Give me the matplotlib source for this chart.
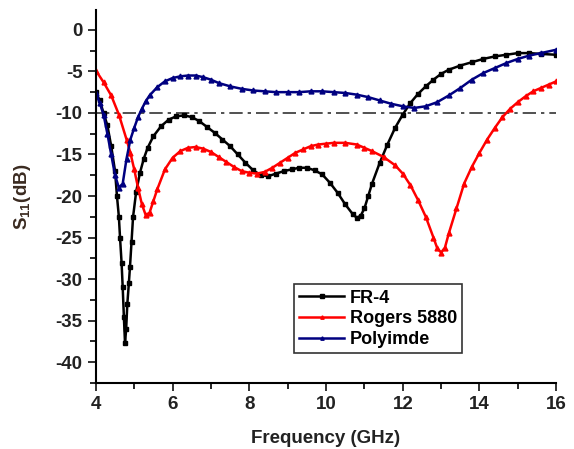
import matplotlib
matplotlib.use("Agg")
import matplotlib.pyplot as plt
from matplotlib.ticker import MultipleLocator, FuncFormatter

plt.rcParams['font.family'] = ['Liberation Sans', 'DejaVu Sans']
plt.rcParams['font.weight'] = 'bold'
plt.rcParams['mathtext.fontset'] = 'custom'
plt.rcParams['mathtext.rm'] = 'Liberation Sans:bold'
plt.rcParams['mathtext.default'] = 'rm'
plt.rcParams['axes.unicode_minus'] = False

# FR-4 (black)
fr4_f = [4.0, 4.1, 4.2, 4.3, 4.4, 4.5, 4.55, 4.6, 4.63, 4.67, 4.7, 4.73, 4.76, 4.79, 4.82,
         4.86, 4.89, 4.93, 4.97, 5.05, 5.15, 5.25, 5.35, 5.5, 5.7, 5.9, 6.1, 6.3, 6.5, 6.7,
         6.9, 7.1, 7.3, 7.5, 7.7, 7.9, 8.1, 8.3, 8.5, 8.7, 8.9, 9.1, 9.3, 9.5, 9.7, 9.9,
         10.1, 10.3, 10.5, 10.7, 10.8, 10.9, 11.0, 11.1, 11.2, 11.4, 11.6, 11.8, 12.0, 12.2,
         12.4, 12.6, 12.8, 13.0, 13.2, 13.5, 13.8, 14.1, 14.4, 14.7, 15.0, 15.3, 15.6, 16.0]
fr4_s = [-7.5, -8.5, -10.0, -11.5, -14.0, -17.0, -20.0, -22.5, -25.0, -28.0, -31.0, -34.5, -37.7, -36.0, -33.0,
         -30.5, -28.5, -25.5, -22.5, -19.5, -17.2, -15.5, -14.2, -12.8, -11.6, -10.8, -10.4, -10.3, -10.5, -11.0,
         -11.7, -12.4, -13.2, -14.0, -15.0, -16.0, -16.9, -17.5, -17.6, -17.3, -17.0, -16.8, -16.6, -16.6, -16.9, -17.4,
         -18.4, -19.6, -21.0, -22.2, -22.6, -22.4, -21.5, -20.0, -18.5, -16.0, -13.8, -11.8, -10.2, -8.8,
         -7.7, -6.8, -6.0, -5.3, -4.8, -4.3, -3.9, -3.5, -3.2, -3.0, -2.8, -2.8, -2.9, -3.0]

# Rogers 5880 (red)
rog_f = [4.0, 4.2, 4.4, 4.6, 4.8, 4.9, 5.0, 5.1, 5.2, 5.3, 5.4, 5.5, 5.6, 5.8, 6.0, 6.2,
         6.4, 6.6, 6.8, 7.0, 7.2, 7.4, 7.6, 7.8, 8.0, 8.2, 8.4, 8.6, 8.8, 9.0, 9.2, 9.4,
         9.6, 9.8, 10.0, 10.2, 10.5, 10.8, 11.0, 11.2, 11.5, 11.8, 12.0, 12.2, 12.4, 12.6,
         12.8, 12.9, 13.0, 13.1, 13.2, 13.4, 13.6, 13.8, 14.0, 14.2, 14.4, 14.6, 14.8, 15.0,
         15.2, 15.4, 15.6, 15.8, 16.0]
rog_s = [-4.9, -6.3, -7.9, -10.2, -13.2, -14.8, -16.8, -19.0, -21.0, -22.3, -22.0, -20.6, -19.2, -16.8, -15.4, -14.6,
         -14.2, -14.1, -14.3, -14.7, -15.3, -15.9, -16.5, -17.0, -17.2, -17.3, -17.1, -16.6, -16.0, -15.4, -14.8, -14.4,
         -14.0, -13.8, -13.7, -13.6, -13.6, -13.8, -14.2, -14.6, -15.3, -16.3, -17.3, -18.7, -20.5, -22.5,
         -25.0, -26.3, -26.8, -26.2, -24.5, -21.5, -18.5, -16.5, -14.8, -13.2, -11.8, -10.5, -9.5, -8.7,
         -8.0, -7.4, -7.0, -6.6, -6.2]

# Polyimde (blue)
pol_f = [4.0, 4.1, 4.2, 4.3, 4.4, 4.5, 4.6, 4.7, 4.8, 4.9, 5.0, 5.1, 5.2, 5.3, 5.4, 5.6,
         5.8, 6.0, 6.2, 6.4, 6.6, 6.8, 7.0, 7.2, 7.5, 7.8, 8.1, 8.4, 8.7, 9.0, 9.3, 9.6,
         9.9, 10.2, 10.5, 10.8, 11.1, 11.4, 11.7, 12.0, 12.3, 12.6, 12.9, 13.2, 13.5, 13.8,
         14.1, 14.4, 14.7, 15.0, 15.3, 15.6, 16.0]
pol_s = [-7.6, -8.8, -10.2, -12.5, -15.0, -17.5, -19.0, -18.5, -15.5, -13.2, -11.8, -10.5, -9.5, -8.6, -7.9, -6.9,
         -6.2, -5.8, -5.6, -5.5, -5.5, -5.7, -6.0, -6.4, -6.8, -7.1, -7.3, -7.4, -7.5, -7.5, -7.5, -7.4,
         -7.4, -7.5, -7.6, -7.8, -8.1, -8.5, -8.9, -9.2, -9.4, -9.2, -8.7, -7.9, -7.0, -6.0,
         -5.2, -4.6, -4.0, -3.5, -3.1, -2.8, -2.4]

ref_level = -10

fig = plt.figure(figsize=(5.74, 4.49), dpi=100)
ax = fig.add_axes([0.167, 0.147, 0.802, 0.831])

ax.plot([4, 16], [ref_level, ref_level], color='#333333', lw=1.2, ls=(0, (8, 3, 2, 3)), zorder=1)
ax.plot(fr4_f, fr4_s, color='black', lw=1.8, marker='s', ms=3.5, label='FR-4')
ax.plot(rog_f, rog_s, color='red', lw=1.8, marker='^', ms=3.5, label='Rogers 5880')
ax.plot(pol_f, pol_s, color='#000080', lw=1.8, marker='^', ms=3.5, label='Polyimde')

ax.set_xlim(4, 16)
ax.set_ylim(-42.5, 2.4)
ax.xaxis.set_major_locator(MultipleLocator(2))
ax.xaxis.set_minor_locator(MultipleLocator(1))
ax.set_yticks(range(-40, 1, 5))
ax.yaxis.set_minor_locator(MultipleLocator(2.5))
ax.yaxis.set_major_formatter(FuncFormatter(lambda v, p: '%d' % v))
ax.spines['top'].set_visible(False)
ax.spines['right'].set_visible(False)
for s in ['left', 'bottom']:
    ax.spines[s].set_linewidth(1.5)
ax.tick_params(which='major', direction='out', length=6, width=1.3, labelsize=13.5, colors='#222222')
ax.tick_params(which='minor', direction='out', length=4, width=1.2)

ax.set_xlabel('Frequency (GHz)', fontsize=13.5, fontweight='bold', color='#222222', labelpad=12)
ax.set_ylabel('S$_{11}$(dB)', fontsize=13.5, fontweight='bold', color='#3a2a20', labelpad=16)

leg = ax.legend(loc='lower left', bbox_to_anchor=(0.41, 0.055), fontsize=13, frameon=True,
                fancybox=False, edgecolor='black', handlelength=2.5, borderpad=0.3,
                labelspacing=0.2, handletextpad=0.3, markerscale=0.7)
leg.get_frame().set_linewidth(1.2)

fig.savefig('out.png', dpi=100)
